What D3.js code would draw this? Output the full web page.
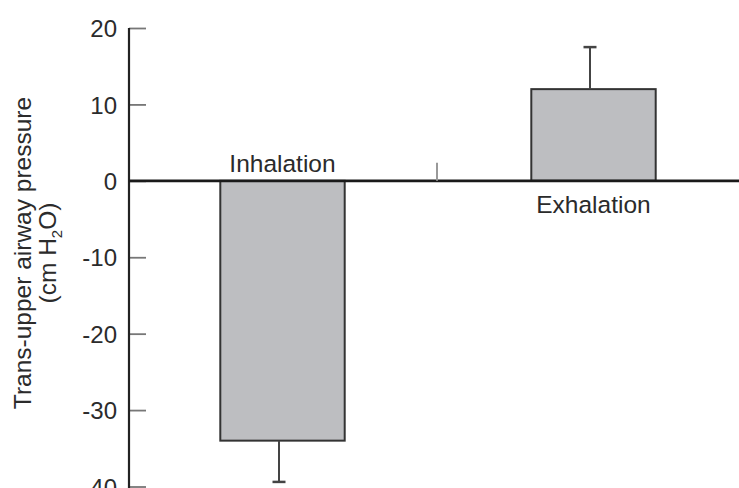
<!DOCTYPE html>
<html>
<head>
<meta charset="utf-8">
<script src="https://cdn.jsdelivr.net/npm/d3@7"></script>
<style>
  body { margin: 0; background: #fff; }
  text { font-family: "Liberation Sans", Arial, Helvetica, sans-serif; fill: #2b2b2b; }
</style>
</head>
<body>
<div id="chart"></div>
<script>
// data
let phases = ["Inhalation", "Exhalation"];
let pressure = [-34, 12];
let pressureErr = [5.4, 5.5];
let yTicks = [20, 10, 0, -10, -20, -30, -40];

let W = 739, H = 488;

let svg = d3.select("#chart")
  .append("svg")
    .attr("width", W)
    .attr("height", H);

let y = d3.scaleLinear()
  .domain([-40, 20])
  .range([486.5, 28]);

let x = d3.scaleBand()
  .domain(phases)
  .range([127, 749])
  .paddingInner(0.6)
  .paddingOuter(0.3);

let axisX = 129;

// bars
svg.selectAll("rect.bar")
  .data(phases)
  .enter()
  .append("rect")
    .attr("class", "bar")
    .attr("x", d => x(d))
    .attr("width", x.bandwidth())
    .attr("y", (d, i) => y(Math.max(0, pressure[i])))
    .attr("height", (d, i) => Math.abs(y(pressure[i]) - y(0)))
    .style("fill", "#bdbec1")
    .style("stroke", "#333")
    .style("stroke-width", 2);

// error bars (one-sided, away from zero)
let errG = svg.selectAll("g.err")
  .data(phases)
  .enter()
  .append("g")
    .attr("class", "err");

let ex = d => x(d) + x.bandwidth() / 2 - 3.5;
let eEnd = (d, i) => y(pressure[i] + Math.sign(pressure[i]) * pressureErr[i]);

errG.append("line")
  .attr("x1", ex).attr("x2", ex)
  .attr("y1", (d, i) => y(pressure[i]))
  .attr("y2", eEnd)
  .style("stroke", "#444")
  .style("stroke-width", 2);

errG.append("line")
  .attr("x1", d => ex(d) - 6.5).attr("x2", d => ex(d) + 6.5)
  .attr("y1", eEnd).attr("y2", eEnd)
  .style("stroke", "#444")
  .style("stroke-width", 2.5);

// y axis
let yAxis = d3.axisRight(y)
  .tickValues(yTicks)
  .tickSize(17)
  .tickFormat(d => String(d));

let gy = svg.append("g")
  .attr("transform", "translate(" + axisX + ",0)")
  .call(yAxis);

gy.select(".domain").remove();
gy.selectAll(".tick line")
  .style("stroke", "#777")
  .style("stroke-width", 1.8);
gy.selectAll(".tick text")
  .attr("x", -12)
  .attr("dy", "0.36em")
  .style("text-anchor", "end")
  .style("font-size", "24px")
  .style("fill", "#2b2b2b");

svg.append("line")
  .attr("x1", axisX).attr("x2", axisX)
  .attr("y1", y(20)).attr("y2", H)
  .style("stroke", "#222")
  .style("stroke-width", 2.2);

// zero line
svg.append("line")
  .attr("x1", axisX).attr("x2", W)
  .attr("y1", y(0)).attr("y2", y(0))
  .style("stroke", "#1a1a1a")
  .style("stroke-width", 2.6);

// small category divider tick
let midX = (x(phases[0]) + x(phases[1]) + x.bandwidth()) / 2 - 1;
svg.append("line")
  .attr("x1", midX).attr("x2", midX)
  .attr("y1", y(0)).attr("y2", y(0) - 18)
  .style("stroke", "#999")
  .style("stroke-width", 2);

// category labels
svg.selectAll("text.cat")
  .data(phases)
  .enter()
  .append("text")
    .attr("class", "cat")
    .attr("x", d => x(d) + x.bandwidth() / 2)
    .attr("y", (d, i) => pressure[i] < 0 ? y(0) - 9 : y(0) + 32)
    .attr("text-anchor", "middle")
    .style("font-size", "24.5px")
    .text(d => d);

// y axis title
let title = svg.append("text")
  .attr("transform", "translate(31,253) rotate(-90)")
  .attr("text-anchor", "middle")
  .style("font-size", "24.5px");

title.append("tspan")
  .attr("x", 0).attr("y", 0)
  .text("Trans-upper airway pressure");

let t2 = title.append("tspan")
  .attr("x", 0).attr("y", 25)
  .text("(cm H");
t2.append("tspan")
  .attr("dy", 6)
  .style("font-size", "15px")
  .text("2");
title.append("tspan")
  .attr("dy", -6)
  .text("O)");
</script>
</body>
</html>
